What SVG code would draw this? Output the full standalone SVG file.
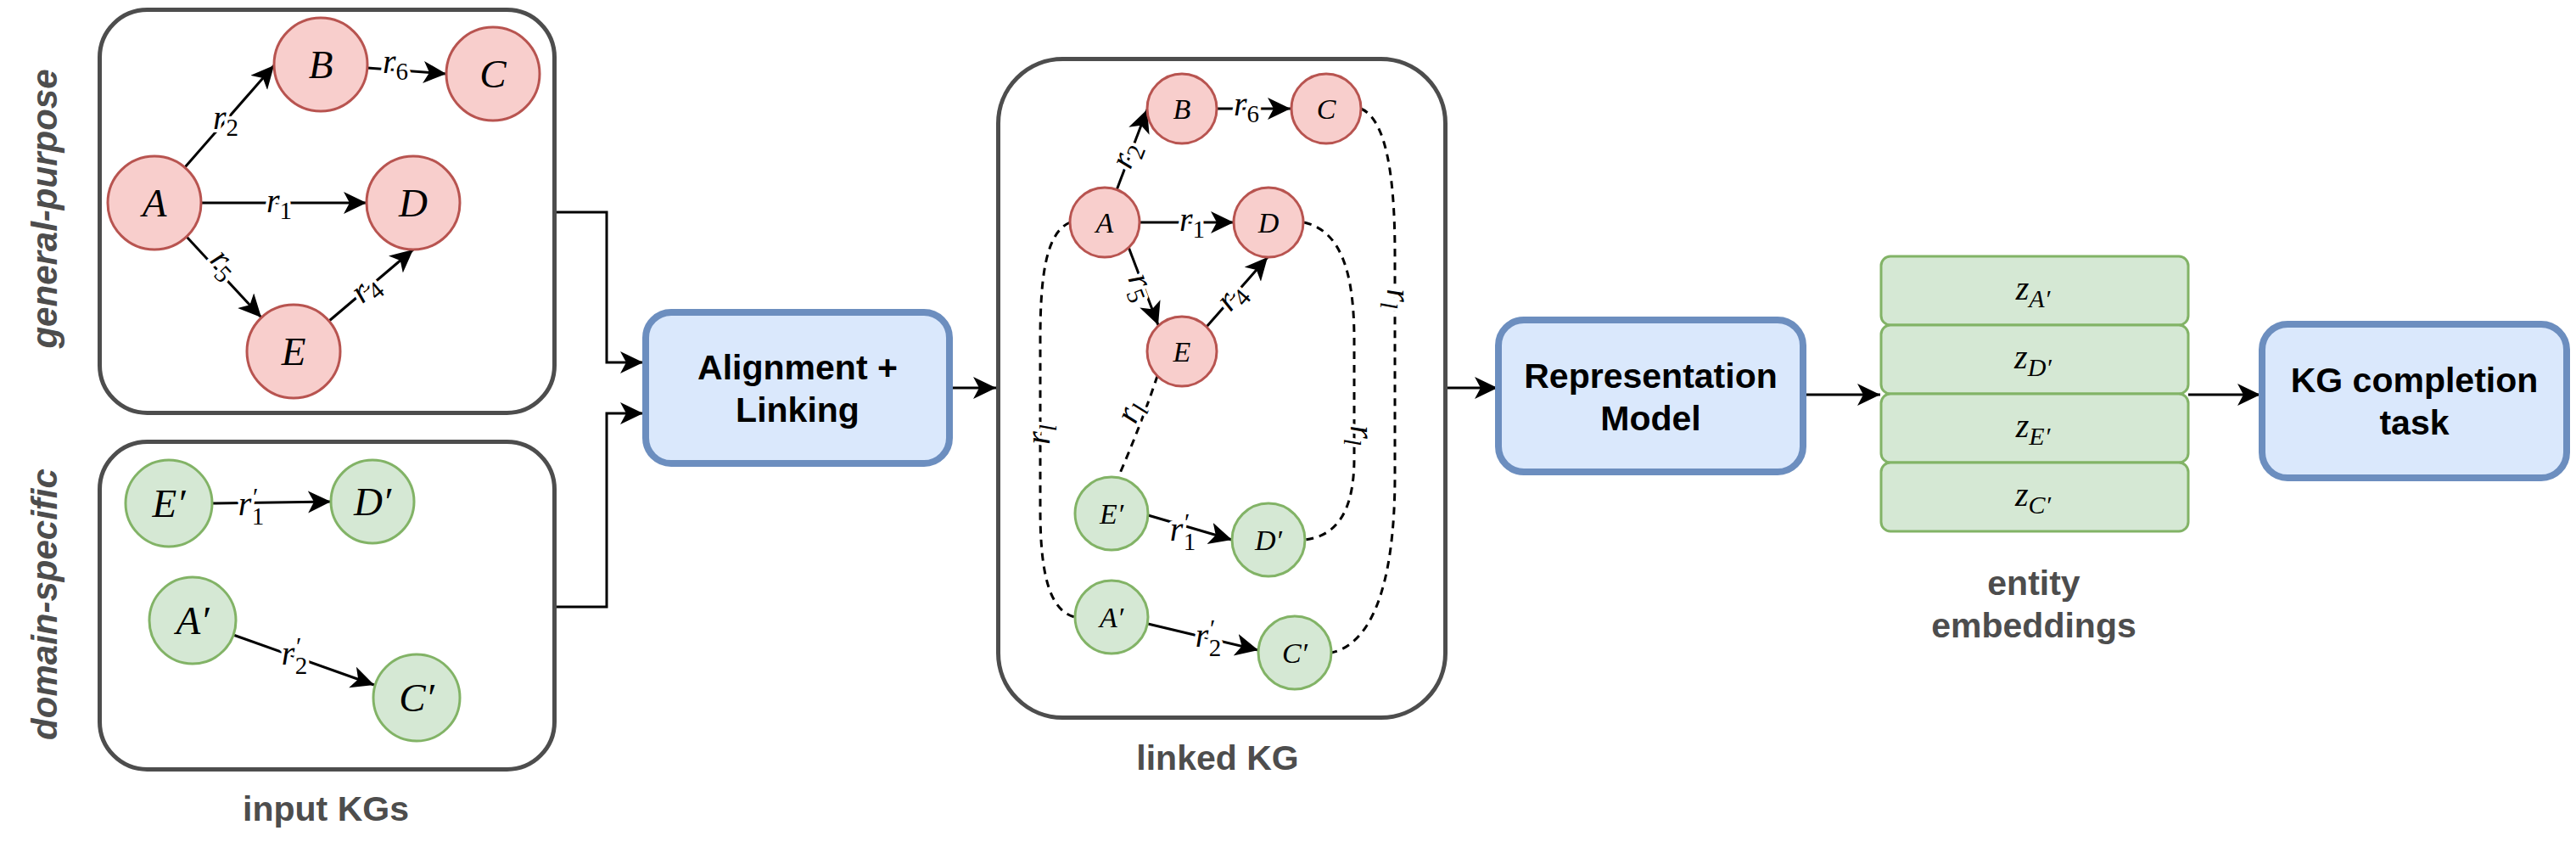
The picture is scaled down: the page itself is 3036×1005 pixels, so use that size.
<svg xmlns="http://www.w3.org/2000/svg" width="3036" height="1005" viewBox="0 0 3036 1005">
<defs>
<style>
.frame{fill:#fff;stroke:#4d4d4d;stroke-width:5}
.red{fill:#f8cecc;stroke:#b85450;stroke-width:3}
.green{fill:#d5e8d4;stroke:#82b366;stroke-width:3}
.blue{fill:#dae8fc;stroke:#6c8ebf;stroke-width:8}
.edge{fill:none;stroke:#000;stroke-width:3;marker-end:url(#arr)}
.dash{fill:none;stroke:#000;stroke-width:3;stroke-dasharray:9 7}
.m{font-family:"Liberation Serif","DejaVu Serif",serif;font-style:italic;fill:#000;text-anchor:middle}
.nl{font-size:47px}
.ns{font-size:34px}
.el{font-size:40px;stroke:#fff;stroke-width:8px;stroke-linejoin:round;paint-order:stroke}
.sub{font-size:29px;font-style:normal}
.subi{font-size:29px}
.zl{font-size:40px}
.zs{font-size:30px}
.bt{font-family:"Liberation Sans",Arial,sans-serif;font-weight:bold;font-size:41px;fill:#000;text-anchor:middle}
.gt{font-family:"Liberation Sans",Arial,sans-serif;font-weight:bold;font-size:41px;fill:#4d4d4d;text-anchor:middle}
.side{font-family:"Liberation Sans",Arial,sans-serif;font-weight:bold;font-style:italic;font-size:42px;fill:#4d4d4d;text-anchor:middle}
</style>
<marker id="arr" markerUnits="userSpaceOnUse" markerWidth="28" markerHeight="28" viewBox="0 0 28 28" refX="27" refY="13" orient="auto">
<path d="M0,0 L27,13 L0,26 L7,13 Z" fill="#000"/>
</marker>
</defs>

<!-- frames -->
<g id="frame-general">
<rect class="frame" x="117.5" y="11.5" width="536" height="475" rx="56"/>
<text class="side" transform="translate(67,246) rotate(-90)">general-purpose</text>
</g>
<g id="frame-domain">
<rect class="frame" x="117.5" y="520.5" width="536" height="386" rx="56"/>
<text class="side" transform="translate(67,712) rotate(-90)">domain-specific</text>
<text class="gt" x="384" y="967">input KGs</text>
</g>
<g id="frame-linked">
<rect class="frame" x="1176.5" y="69.5" width="527" height="776" rx="76"/>
<text class="gt" x="1435" y="907">linked KG</text>
</g>

<!-- connectors -->
<g id="connectors">
<!-- pipeline -->
<path class="edge" d="M656,250 H715 V427 H758"/>
<path class="edge" d="M656,715 H715 V487 H758"/>
<path class="edge" d="M1123,457 H1174"/>
<path class="edge" d="M1706,457 H1765"/>
<path class="edge" d="M2129,465 H2216"/>
<path class="edge" d="M2579,465 H2664"/>

<!-- input general-purpose KG -->
<path class="edge" d="M218,197 L323,77"/>
<text class="m el" x="266" y="152">r<tspan class="sub" dy="8">2</tspan></text>
<path class="edge" d="M433,80 L526,87"/>
<text class="m el" x="466" y="86">r<tspan class="sub" dy="8">6</tspan></text>
<path class="edge" d="M237,239 L432,239"/>
<text class="m el" x="329" y="250">r<tspan class="sub" dy="8">1</tspan></text>
<path class="edge" d="M220,279 L308,374"/>
<text class="m el" transform="translate(260,315) rotate(47)" x="0" y="5">r<tspan class="sub" dy="8">5</tspan></text>
<path class="edge" d="M388,378 L487,294"/>
<text class="m el" transform="translate(435,345) rotate(-40)" x="0" y="5">r<tspan class="sub" dy="8">4</tspan></text>

<!-- input domain-specific KG -->
<path class="edge" d="M250,593 L390,591"/>
<text class="m el" x="296" y="607">r<tspan class="subi" dy="-12">′</tspan><tspan class="sub" dx="-6" dy="23">1</tspan></text>
<path class="edge" d="M275,748 L441,807"/>
<text class="m el" x="347" y="783">r<tspan class="subi" dy="-12">′</tspan><tspan class="sub" dx="-6" dy="23">2</tspan></text>

<!-- linked KG -->
<path class="edge" d="M1316,224 L1352,129"/>
<text class="m el" transform="translate(1333,185) rotate(-69)" x="0" y="5">r<tspan class="sub" dy="8">2</tspan></text>
<path class="edge" d="M1434,128 L1521,128"/>
<text class="m el" x="1469" y="136">r<tspan class="sub" dy="8">6</tspan></text>
<path class="edge" d="M1343,262 L1454,262"/>
<text class="m el" x="1405" y="272">r<tspan class="sub" dy="8">1</tspan></text>
<path class="edge" d="M1330,291 L1365,383"/>
<text class="m el" transform="translate(1339,340) rotate(69)" x="0" y="5">r<tspan class="sub" dy="8">5</tspan></text>
<path class="edge" d="M1422,385 L1494,303"/>
<text class="m el" transform="translate(1456,354) rotate(-49)" x="0" y="5">r<tspan class="sub" dy="8">4</tspan></text>
<path class="edge" d="M1353,607 L1452,636"/>
<text class="m el" x="1394" y="637">r<tspan class="subi" dy="-12">′</tspan><tspan class="sub" dx="-6" dy="23">1</tspan></text>
<path class="edge" d="M1353,735 L1483,766"/>
<text class="m el" x="1424" y="762">r<tspan class="subi" dy="-12">′</tspan><tspan class="sub" dx="-6" dy="23">2</tspan></text>

<!-- alignment links (dashed) -->
<path class="dash" d="M1261,262 C1234,274 1226,320 1226,400 L1226,600 C1226,680 1238,720 1267,727"/>
<text class="m el" transform="translate(1232,512) rotate(-90)" x="0" y="5">r<tspan class="subi" dy="8">l</tspan></text>
<path class="dash" d="M1364,443 Q1345,500 1318,562"/>
<text class="m el" transform="translate(1338,488) rotate(-68)" x="0" y="5">r<tspan class="subi" dy="8">l</tspan></text>
<path class="dash" d="M1537,262 C1580,272 1596,320 1596,400 L1596,540 C1596,610 1570,632 1538,636"/>
<text class="m el" transform="translate(1597,513) rotate(90)" x="0" y="5">r<tspan class="subi" dy="8">l</tspan></text>
<path class="dash" d="M1604,128 C1632,140 1644,200 1644,300 L1644,560 C1644,700 1612,760 1569,769"/>
<text class="m el" transform="translate(1640,352) rotate(90)" x="0" y="5">r<tspan class="subi" dy="8">l</tspan></text>
</g>

<!-- input KG nodes -->
<g id="g-A"><circle class="red" cx="182" cy="239" r="55"/><text class="m nl" x="182" y="255">A</text></g>
<g id="g-B"><circle class="red" cx="378" cy="76" r="55"/><text class="m nl" x="378" y="92">B</text></g>
<g id="g-C"><circle class="red" cx="581" cy="87" r="55"/><text class="m nl" x="581" y="103">C</text></g>
<g id="g-D"><circle class="red" cx="487" cy="239" r="55"/><text class="m nl" x="487" y="255">D</text></g>
<g id="g-E"><circle class="red" cx="346" cy="414" r="55"/><text class="m nl" x="346" y="430">E</text></g>
<g id="d-E"><circle class="green" cx="199" cy="593" r="51"/><text class="m nl" x="199" y="609">E′</text></g>
<g id="d-D"><circle class="green" cx="439" cy="591" r="49"/><text class="m nl" x="439" y="607">D′</text></g>
<g id="d-A"><circle class="green" cx="227" cy="731" r="51"/><text class="m nl" x="227" y="747">A′</text></g>
<g id="d-C"><circle class="green" cx="491" cy="822" r="51"/><text class="m nl" x="491" y="838">C′</text></g>

<!-- linked KG nodes -->
<g id="l-A"><circle class="red" cx="1302" cy="262" r="41"/><text class="m ns" x="1302" y="274">A</text></g>
<g id="l-B"><circle class="red" cx="1393" cy="128" r="41"/><text class="m ns" x="1393" y="140">B</text></g>
<g id="l-C"><circle class="red" cx="1563" cy="128" r="41"/><text class="m ns" x="1563" y="140">C</text></g>
<g id="l-D"><circle class="red" cx="1495" cy="262" r="41"/><text class="m ns" x="1495" y="274">D</text></g>
<g id="l-E"><circle class="red" cx="1393" cy="414" r="41"/><text class="m ns" x="1393" y="426">E</text></g>
<g id="l-E2"><circle class="green" cx="1310" cy="605" r="43"/><text class="m ns" x="1310" y="617">E′</text></g>
<g id="l-D2"><circle class="green" cx="1495" cy="636" r="43"/><text class="m ns" x="1495" y="648">D′</text></g>
<g id="l-A2"><circle class="green" cx="1310" cy="727" r="43"/><text class="m ns" x="1310" y="739">A′</text></g>
<g id="l-C2"><circle class="green" cx="1526" cy="769" r="43"/><text class="m ns" x="1526" y="781">C′</text></g>

<!-- process boxes -->
<g id="alignment">
<rect class="blue" x="761" y="368" width="358" height="178" rx="30"/>
<text class="bt" x="940" y="447">Alignment +</text>
<text class="bt" x="940" y="497">Linking</text>
</g>
<g id="representation">
<rect class="blue" x="1766" y="377" width="359" height="179" rx="30"/>
<text class="bt" x="1945.5" y="457">Representation</text>
<text class="bt" x="1945.5" y="507">Model</text>
</g>
<g id="embeddings">
<rect class="green" x="2217" y="302" width="362" height="81" rx="11"/>
<rect class="green" x="2217" y="383" width="362" height="81" rx="11"/>
<rect class="green" x="2217" y="464" width="362" height="81" rx="11"/>
<rect class="green" x="2217" y="545" width="362" height="81" rx="11"/>
<text class="m zl" x="2396" y="353">z<tspan class="zs" dy="9">A′</tspan></text>
<text class="m zl" x="2396" y="434">z<tspan class="zs" dy="9">D′</tspan></text>
<text class="m zl" x="2396" y="515">z<tspan class="zs" dy="9">E′</tspan></text>
<text class="m zl" x="2396" y="596">z<tspan class="zs" dy="9">C′</tspan></text>
<text class="gt" x="2397" y="701">entity</text>
<text class="gt" x="2397" y="751">embeddings</text>
</g>
<g id="kg-completion">
<rect class="blue" x="2666" y="382" width="359" height="181" rx="30"/>
<text class="bt" x="2845.5" y="462">KG completion</text>
<text class="bt" x="2845.5" y="512">task</text>
</g>
</svg>
